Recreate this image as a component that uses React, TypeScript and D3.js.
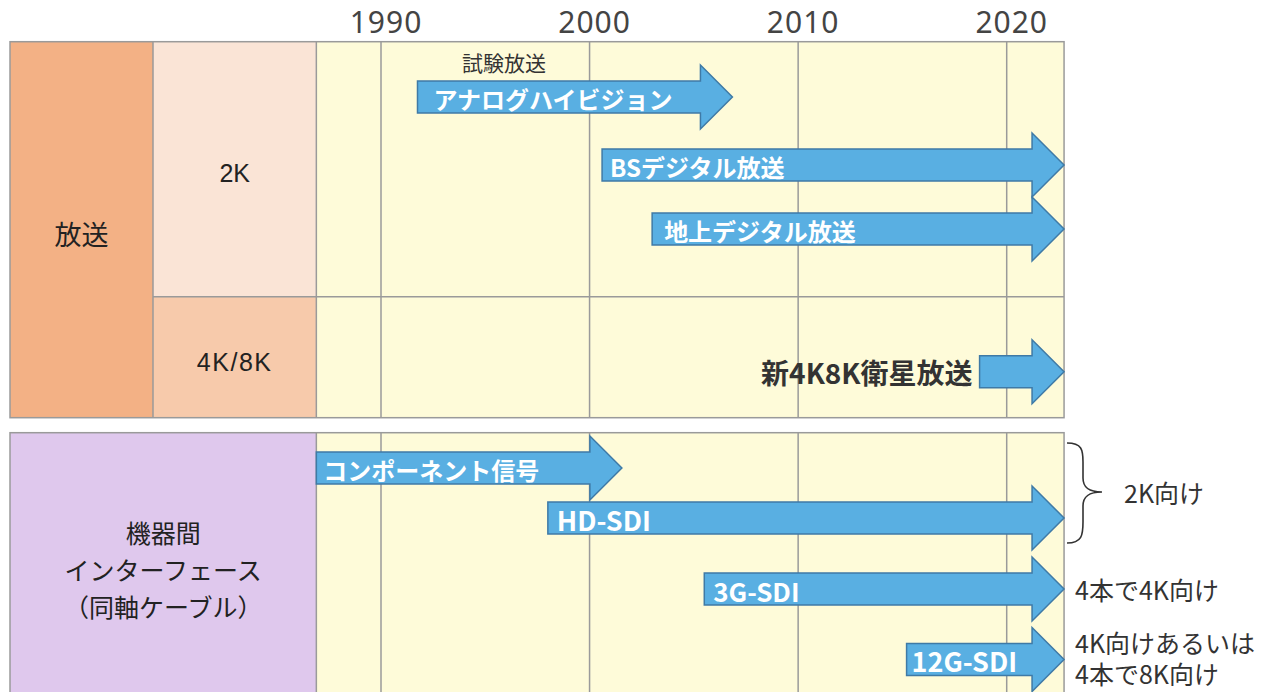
import React from 'react';
import * as d3 from 'd3';

// timeline ticks
const yearTicks = [1990, 2000, 2010, 2020];
const spanYears = [1986.9, 2022.75];

// broadcast rows
const broadcastLabels = ['アナログハイビジョン', 'BSデジタル放送', '地上デジタル放送', '新4K8K衛星放送'];
const broadcastStart = [1991.75, 2000.6, 2003.0, 2018.7];
const broadcastEnd = [2006.85, 2022.75, 2022.75, 2022.75];

// interface rows
const interfaceLabels = ['コンポーネント信号', 'HD-SDI', '3G-SDI', '12G-SDI'];
const interfaceStart = [1986.9, 1998.0, 2005.5, 2015.2];
const interfaceEnd = [2001.55, 2022.75, 2022.75, 2022.75];

const JP = "'Noto Sans CJK JP', 'Noto Sans', sans-serif";
const LATIN = "'Noto Sans', 'Noto Sans CJK JP', sans-serif";
const ARROW_FILL = '#59afe2';
const ARROW_STROKE = '#3f7aa6';
const GRID = '#9a9a9a';
const INK = '#333';

type ArrowProps = {
	x0: number;
	x1: number;
	cy: number;
	label: string;
	inset: number;
	outside?: boolean;
	fontSize: number;
};

const Arrow = ({ x0, x1, cy, label, inset, outside, fontSize }: ArrowProps) => {
	const bodyH = 32;
	const headH = 64;
	const headL = 32;
	const xb = x1 - headL;
	const path = d3.path();
	path.moveTo(x0, cy - bodyH / 2);
	path.lineTo(xb, cy - bodyH / 2);
	path.lineTo(xb, cy - headH / 2);
	path.lineTo(x1, cy);
	path.lineTo(xb, cy + headH / 2);
	path.lineTo(xb, cy + bodyH / 2);
	path.lineTo(x0, cy + bodyH / 2);
	path.closePath();
	return (
		<g>
			<path d={path.toString()} fill={ARROW_FILL} stroke={ARROW_STROKE} strokeWidth={1.5} />
			{outside ? (
				<text x={x0 - 7} y={cy} textAnchor="end" dominantBaseline="central"
					fontFamily={JP} fontWeight="bold" fontSize={28} fill={INK}>{label}</text>
			) : (
				<text x={x0 + inset} y={cy + 1} dominantBaseline="central"
					fontFamily={JP} fontWeight="bold" fontSize={fontSize} fill="#fff">{label}</text>
			)}
		</g>
	);
};

export default function App() {
	const width = 1261;
	const height = 692;
	const x = d3.scaleLinear().domain([1990, 2020]).range([381, 1006.7]);
	const left = 10;
	const colA = 153;
	const px0 = x(spanYears[0]);
	const px1 = x(spanYears[1]);

	const topY0 = 41.7;
	const topY1 = 417.7;
	const splitY = 296.7;
	const botY0 = 432.7;
	const botY1 = 710;

	const broadcastLane = [97, 165, 229, 371.7];
	const broadcastInset = [16, 8, 12, 8];
	const interfaceLane = [468, 518, 589, 659.5];
	const interfaceInset = [7, 9, 9, 5];
	const interfaceFont = [24, 27, 26, 27];

	const noteX = 1075;

	return (
		<svg width={width} height={height} style={{ position: 'absolute', left: 0, top: 0 }}>
			<rect width={width} height={height} fill="#fff" />

			{/* year labels */}
			{yearTicks.map((t) => (
				<text key={t} x={x(t) + 5} y={33} textAnchor="middle" fontFamily={LATIN}
					fontSize={30} letterSpacing={1} fill="#444">{t}</text>
			))}

			{/* top panel */}
			<rect x={left} y={topY0} width={colA - left} height={topY1 - topY0} fill="#f3b185" />
			<rect x={colA} y={topY0} width={px0 - colA} height={splitY - topY0} fill="#fae4d6" />
			<rect x={colA} y={splitY} width={px0 - colA} height={topY1 - splitY} fill="#f7caab" />
			<rect x={px0} y={topY0} width={px1 - px0} height={topY1 - topY0} fill="#fefbd9" />
			{yearTicks.map((t) => (
				<line key={t} x1={x(t)} x2={x(t)} y1={topY0} y2={topY1} stroke={GRID} strokeWidth={1.5} />
			))}
			<line x1={colA} x2={px1} y1={splitY} y2={splitY} stroke={GRID} strokeWidth={1.5} />
			<line x1={colA} x2={colA} y1={topY0} y2={topY1} stroke={GRID} strokeWidth={1.5} />
			<line x1={px0} x2={px0} y1={topY0} y2={topY1} stroke={GRID} strokeWidth={1.5} />
			<rect x={left} y={topY0} width={px1 - left} height={topY1 - topY0} fill="none" stroke={GRID} strokeWidth={1.5} />

			<text x={(left + colA) / 2} y={233} textAnchor="middle" dominantBaseline="central"
				fontFamily={JP} fontSize={27} fill="#222">放送</text>
			<text x={(colA + px0) / 2} y={173} textAnchor="middle" dominantBaseline="central"
				fontFamily="'Liberation Sans', sans-serif" fontSize={25} fill="#222">2K</text>
			<text x={(colA + px0) / 2} y={361.5} textAnchor="middle" dominantBaseline="central"
				fontFamily="'Liberation Sans', sans-serif" fontSize={25} letterSpacing={1.5} fill="#222">4K/8K</text>

			{/* bottom panel */}
			<rect x={left} y={botY0} width={px0 - left} height={botY1 - botY0} fill="#dfc8ed" />
			<rect x={px0} y={botY0} width={px1 - px0} height={botY1 - botY0} fill="#fefbd9" />
			{yearTicks.map((t) => (
				<line key={t} x1={x(t)} x2={x(t)} y1={botY0} y2={botY1} stroke={GRID} strokeWidth={1.5} />
			))}
			<line x1={px0} x2={px0} y1={botY0} y2={botY1} stroke={GRID} strokeWidth={1.5} />
			<rect x={left} y={botY0} width={px1 - left} height={botY1 - botY0} fill="none" stroke={GRID} strokeWidth={1.5} />

			{['機器間', 'インターフェース', '（同軸ケーブル）'].map((s, i) => (
				<text key={s} x={(left + px0) / 2} y={532 + i * 37} textAnchor="middle" dominantBaseline="central"
					fontFamily={JP} fontSize={25} fill="#222">{s}</text>
			))}

			{/* arrows */}
			<text x={504} y={62} textAnchor="middle" dominantBaseline="central"
				fontFamily={JP} fontSize={21} fill={INK}>試験放送</text>
			{broadcastLabels.map((lab, i) => (
				<Arrow key={lab} x0={x(broadcastStart[i])} x1={x(broadcastEnd[i])} cy={broadcastLane[i]}
					label={lab} inset={broadcastInset[i]} outside={i === 3} fontSize={24} />
			))}
			{interfaceLabels.map((lab, i) => (
				<Arrow key={lab} x0={x(interfaceStart[i])} x1={x(interfaceEnd[i])} cy={interfaceLane[i]}
					label={lab} inset={interfaceInset[i]} fontSize={interfaceFont[i]} />
			))}

			{/* notes */}
			<path d="M1067,443 C1082,443 1083,450 1083,462 L1083,478 C1083,488 1089,492 1102,492 C1089,492 1083,496 1083,506 L1083,522 C1083,535 1082,543 1067,543"
				fill="none" stroke={INK} strokeWidth={1.6} />
			<text x={1124} y={492} dominantBaseline="central" fontFamily={JP} fontSize={25} fill={INK}>2K向け</text>
			<text x={noteX} y={589} dominantBaseline="central" fontFamily={JP} fontSize={25} fill={INK}>4本で4K向け</text>
			<text x={noteX} y={642} dominantBaseline="central" fontFamily={JP} fontSize={25} fill={INK}>4K向けあるいは</text>
			<text x={noteX} y={673} dominantBaseline="central" fontFamily={JP} fontSize={25} fill={INK}>4本で8K向け</text>
		</svg>
	);
}
